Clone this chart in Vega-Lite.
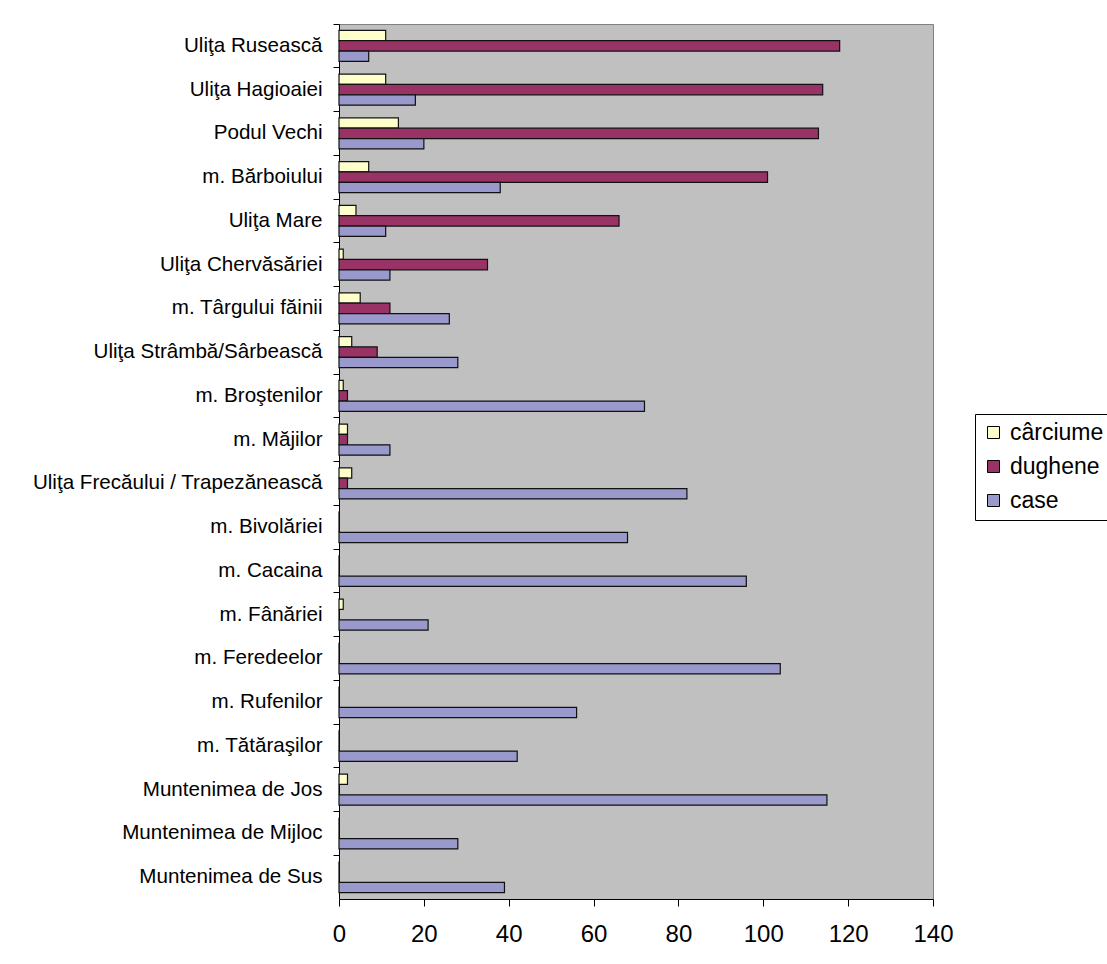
{
  "$schema": "https://vega.github.io/schema/vega-lite/v6.json",
  "width": 594,
  "height": 875,
  "autosize": "none",
  "padding": {"left": 339, "top": 24, "right": 174, "bottom": 65},
  "background": "white",
  "config": {
    "font": "Liberation Sans",
    "view": {"fill": "#C0C0C0", "stroke": "#808080", "strokeWidth": 1}
  },
  "data": {
    "values": [
      {"loc": "Uliţa Rusească", "serie": "cârciume", "n": 11},
      {"loc": "Uliţa Rusească", "serie": "dughene", "n": 118},
      {"loc": "Uliţa Rusească", "serie": "case", "n": 7},
      {"loc": "Uliţa Hagioaiei", "serie": "cârciume", "n": 11},
      {"loc": "Uliţa Hagioaiei", "serie": "dughene", "n": 114},
      {"loc": "Uliţa Hagioaiei", "serie": "case", "n": 18},
      {"loc": "Podul Vechi", "serie": "cârciume", "n": 14},
      {"loc": "Podul Vechi", "serie": "dughene", "n": 113},
      {"loc": "Podul Vechi", "serie": "case", "n": 20},
      {"loc": "m. Bărboiului", "serie": "cârciume", "n": 7},
      {"loc": "m. Bărboiului", "serie": "dughene", "n": 101},
      {"loc": "m. Bărboiului", "serie": "case", "n": 38},
      {"loc": "Uliţa Mare", "serie": "cârciume", "n": 4},
      {"loc": "Uliţa Mare", "serie": "dughene", "n": 66},
      {"loc": "Uliţa Mare", "serie": "case", "n": 11},
      {"loc": "Uliţa Chervăsăriei", "serie": "cârciume", "n": 1},
      {"loc": "Uliţa Chervăsăriei", "serie": "dughene", "n": 35},
      {"loc": "Uliţa Chervăsăriei", "serie": "case", "n": 12},
      {"loc": "m. Târgului făinii", "serie": "cârciume", "n": 5},
      {"loc": "m. Târgului făinii", "serie": "dughene", "n": 12},
      {"loc": "m. Târgului făinii", "serie": "case", "n": 26},
      {"loc": "Uliţa Strâmbă/Sârbească", "serie": "cârciume", "n": 3},
      {"loc": "Uliţa Strâmbă/Sârbească", "serie": "dughene", "n": 9},
      {"loc": "Uliţa Strâmbă/Sârbească", "serie": "case", "n": 28},
      {"loc": "m. Broştenilor", "serie": "cârciume", "n": 1},
      {"loc": "m. Broştenilor", "serie": "dughene", "n": 2},
      {"loc": "m. Broştenilor", "serie": "case", "n": 72},
      {"loc": "m. Măjilor", "serie": "cârciume", "n": 2},
      {"loc": "m. Măjilor", "serie": "dughene", "n": 2},
      {"loc": "m. Măjilor", "serie": "case", "n": 12},
      {"loc": "Uliţa Frecăului / Trapezănească", "serie": "cârciume", "n": 3},
      {"loc": "Uliţa Frecăului / Trapezănească", "serie": "dughene", "n": 2},
      {"loc": "Uliţa Frecăului / Trapezănească", "serie": "case", "n": 82},
      {"loc": "m. Bivolăriei", "serie": "cârciume", "n": 0},
      {"loc": "m. Bivolăriei", "serie": "dughene", "n": 0},
      {"loc": "m. Bivolăriei", "serie": "case", "n": 68},
      {"loc": "m. Cacaina", "serie": "cârciume", "n": 0},
      {"loc": "m. Cacaina", "serie": "dughene", "n": 0},
      {"loc": "m. Cacaina", "serie": "case", "n": 96},
      {"loc": "m. Fânăriei", "serie": "cârciume", "n": 1},
      {"loc": "m. Fânăriei", "serie": "dughene", "n": 0},
      {"loc": "m. Fânăriei", "serie": "case", "n": 21},
      {"loc": "m. Feredeelor", "serie": "cârciume", "n": 0},
      {"loc": "m. Feredeelor", "serie": "dughene", "n": 0},
      {"loc": "m. Feredeelor", "serie": "case", "n": 104},
      {"loc": "m. Rufenilor", "serie": "cârciume", "n": 0},
      {"loc": "m. Rufenilor", "serie": "dughene", "n": 0},
      {"loc": "m. Rufenilor", "serie": "case", "n": 56},
      {"loc": "m. Tătăraşilor", "serie": "cârciume", "n": 0},
      {"loc": "m. Tătăraşilor", "serie": "dughene", "n": 0},
      {"loc": "m. Tătăraşilor", "serie": "case", "n": 42},
      {"loc": "Muntenimea de Jos", "serie": "cârciume", "n": 2},
      {"loc": "Muntenimea de Jos", "serie": "dughene", "n": 0},
      {"loc": "Muntenimea de Jos", "serie": "case", "n": 115},
      {"loc": "Muntenimea de Mijloc", "serie": "cârciume", "n": 0},
      {"loc": "Muntenimea de Mijloc", "serie": "dughene", "n": 0},
      {"loc": "Muntenimea de Mijloc", "serie": "case", "n": 28},
      {"loc": "Muntenimea de Sus", "serie": "cârciume", "n": 0},
      {"loc": "Muntenimea de Sus", "serie": "dughene", "n": 0},
      {"loc": "Muntenimea de Sus", "serie": "case", "n": 39}
    ]
  },
  "mark": {"type": "bar", "stroke": "#111111", "strokeWidth": 1.2},
  "encoding": {
    "y": {
      "field": "loc",
      "type": "nominal",
      "sort": null,
      "scale": {"paddingInner": 0.29, "paddingOuter": 0.145},
      "axis": {
        "title": null,
        "bandPosition": -0.2042,
        "labelOffset": 0,
        "labelFontSize": 20.6,
        "labelColor": "black",
        "labelPadding": 11,
        "labelLimit": 400,
        "tickSize": 6,
        "tickColor": "black",
        "domainColor": "black",
        "grid": false
      }
    },
    "yOffset": {
      "field": "serie",
      "type": "nominal",
      "sort": ["cârciume", "dughene", "case"],
      "scale": {"paddingInner": 0, "paddingOuter": 0}
    },
    "x": {
      "field": "n",
      "type": "quantitative",
      "scale": {"domain": [0, 140], "nice": false},
      "axis": {
        "title": null,
        "values": [0, 20, 40, 60, 80, 100, 120, 140],
        "labelFlush": false,
        "labelFontSize": 24,
        "labelColor": "black",
        "labelPadding": 16,
        "tickSize": 7,
        "tickColor": "black",
        "domainColor": "black",
        "grid": false
      }
    },
    "color": {
      "field": "serie",
      "type": "nominal",
      "scale": {"domain": ["cârciume", "dughene", "case"], "range": ["#FFFFCC", "#993366", "#9999CC"]},
      "legend": {
        "title": null,
        "orient": "none",
        "legendX": 636,
        "legendY": 390,
        "strokeColor": "black",
        "fillColor": "white",
        "padding": 7,
        "symbolType": "square",
        "symbolSize": 144,
        "symbolStrokeColor": "black",
        "symbolStrokeWidth": 1,
        "symbolOpacity": 1,
        "labelFontSize": 23,
        "labelColor": "black",
        "labelOffset": 5,
        "rowPadding": 10,
        "labelLimit": 300
      }
    }
  }
}
